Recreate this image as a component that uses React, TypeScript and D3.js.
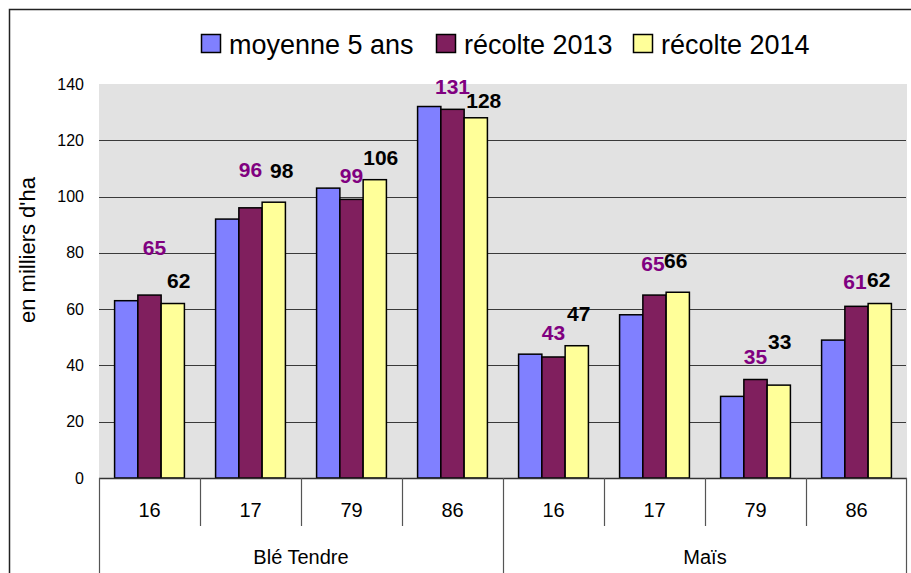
import React, { useEffect, useRef } from 'react';
import * as d3 from 'd3';

// cultures and départements
const groups = ['Blé Tendre', 'Maïs'];
const depts = ['16', '17', '79', '86'];

const seriesNames = ['moyenne 5 ans', 'récolte 2013', 'récolte 2014'];
const moyenne = [63, 92, 103, 132, 44, 58, 29, 49];
const recolte2013 = [65, 96, 99, 131, 43, 65, 35, 61];
const recolte2014 = [62, 98, 106, 128, 47, 66, 33, 62];

const yTicks = [0, 20, 40, 60, 80, 100, 120, 140];

// label nudges (excel labels were moved by hand) [dx, dy] from bar top
const nudge2013 = [[5, -48], [0, -38], [0, -24], [0, -23], [0, -25], [-1.5, -32], [0, -23.5], [-1.5, -25]];
const nudge2014 = [[6, -23], [8, -32], [6, -22], [8, -17], [2, -32], [-2, -32], [1, -44], [-1, -24]];

const colors = ['#8080FF', '#801F5E', '#FFFF99'];
const font = 'Liberation Sans, Arial, sans-serif';

const App = () => {
    const ref = useRef<SVGSVGElement>(null);

    useEffect(() => {
        const svg = d3.select(ref.current);
        svg.selectAll('*').remove();

        const left = 99, right = 907, top = 84, bottom = 478;

        const cats = groups.flatMap(g => depts.map(d => g + '|' + d));
        const values = [moyenne, recolte2013, recolte2014];

        const x0 = d3.scaleBand().domain(cats).range([left, right]).padding(0);
        const x1 = d3.scaleBand().domain(seriesNames).range([0, x0.bandwidth()]).paddingInner(0).paddingOuter(0.67);
        const y = d3.scaleLinear().domain([0, 140]).range([bottom, top]);

        // outer frame
        svg.append('path')
            .attr('d', 'M9.5,573 L9.5,9.5 L911,9.5')
            .attr('fill', 'none')
            .attr('stroke', '#222')
            .attr('stroke-width', 1.5);

        // plot background
        svg.append('rect')
            .attr('x', left).attr('y', top)
            .attr('width', right - left).attr('height', bottom - top)
            .attr('fill', '#E2E2E2');

        // gridlines
        svg.append('g')
            .selectAll('line')
            .data(yTicks.filter(t => t > 0 && t < 140))
            .enter()
            .append('line')
            .attr('x1', left).attr('x2', right - 1)
            .attr('y1', d => Math.round(y(d)) + 0.5).attr('y2', d => Math.round(y(d)) + 0.5)
            .attr('stroke', '#3a3a3a')
            .attr('stroke-width', 1);

        // y labels
        svg.append('g')
            .selectAll('text')
            .data(yTicks)
            .enter()
            .append('text')
            .attr('x', 84)
            .attr('y', d => y(d))
            .attr('dy', '0.35em')
            .attr('text-anchor', 'end')
            .style('font-family', font)
            .style('font-size', '16px')
            .text(d => d);

        svg.append('text')
            .attr('transform', 'translate(35,250) rotate(-90)')
            .attr('text-anchor', 'middle')
            .style('font-family', font)
            .style('font-size', '22px')
            .text("en milliers d'ha");

        // bars
        values.forEach((vals, s) => {
            svg.append('g')
                .selectAll('rect')
                .data(vals)
                .enter()
                .append('rect')
                .attr('x', (d, i) => x0(cats[i])! + x1(seriesNames[s])!)
                .attr('y', d => y(d))
                .attr('width', x1.bandwidth())
                .attr('height', d => bottom - y(d))
                .attr('fill', colors[s])
                .attr('stroke', '#000')
                .attr('stroke-width', 1.5);
        });

        // x axis line
        svg.append('line')
            .attr('x1', left).attr('x2', right)
            .attr('y1', bottom + 0.5).attr('y2', bottom + 0.5)
            .attr('stroke', '#333').attr('stroke-width', 1.5);

        // category ticks
        const tickX = cats.map(c => x0(c)!).concat([right - 1]);
        svg.append('g')
            .selectAll('line')
            .data(tickX)
            .enter()
            .append('line')
            .attr('x1', d => Math.round(d) + 0.5).attr('x2', d => Math.round(d) + 0.5)
            .attr('y1', bottom)
            .attr('y2', (d, i) => (i % depts.length === 0 ? 573 : 526))
            .attr('stroke', '#555')
            .attr('stroke-width', 1.2);

        svg.append('g')
            .selectAll('text')
            .data(cats)
            .enter()
            .append('text')
            .attr('x', d => x0(d)! + x0.bandwidth() / 2)
            .attr('y', 517)
            .attr('text-anchor', 'middle')
            .style('font-family', font)
            .style('font-size', '20px')
            .text(d => d.split('|')[1]);

        svg.append('g')
            .selectAll('text')
            .data(groups)
            .enter()
            .append('text')
            .attr('x', g => x0(g + '|' + depts[0])! + x0.bandwidth() * depts.length / 2)
            .attr('y', 564)
            .attr('text-anchor', 'middle')
            .style('font-family', font)
            .style('font-size', '20px')
            .text(g => g);

        // data labels
        const addLabels = (vals: number[], s: number, nudge: number[][], color: string) => {
            svg.append('g')
                .selectAll('text')
                .data(vals)
                .enter()
                .append('text')
                .attr('x', (d, i) => x0(cats[i])! + x1(seriesNames[s])! + x1.bandwidth() / 2 + nudge[i][0])
                .attr('y', (d, i) => y(d) + nudge[i][1])
                .attr('dy', '0.36em')
                .attr('text-anchor', 'middle')
                .attr('fill', color)
                .style('font-family', font)
                .style('font-size', '21px')
                .style('font-weight', 'bold')
                .text(d => Math.round(d));
        };
        addLabels(recolte2013, 1, nudge2013, '#800080');
        addLabels(recolte2014, 2, nudge2014, '#000');

        // legend
        const legendX = [201, 436, 633];
        const lg = svg.append('g');
        seriesNames.forEach((name, s) => {
            lg.append('rect')
                .attr('x', legendX[s] + 0.5).attr('y', 34.5)
                .attr('width', 19).attr('height', 18)
                .attr('fill', colors[s])
                .attr('stroke', '#000')
                .attr('stroke-width', 1.5);
            lg.append('text')
                .attr('x', legendX[s] + 28)
                .attr('y', 54)
                .style('font-family', font)
                .style('font-size', '27px')
                .text(name);
        });
    }, []);

    return (
        <svg ref={ref} width={911} height={573}
            style={{ position: 'absolute', left: 0, top: 0, background: '#fff' }} />
    );
};

export default App;
